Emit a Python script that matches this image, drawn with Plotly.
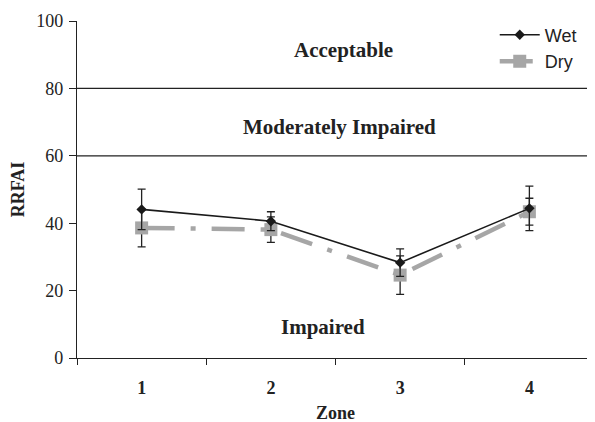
import plotly.graph_objects as go

zones = ["1", "2", "3", "4"]
wet = [44.1, 40.6, 28.3, 44.4]
wet_err = [6.0, 2.8, 4.1, 6.6]
dry = [38.6, 38.1, 24.6, 43.4]
dry_err = [5.6, 3.8, 5.7, 4.0]
y_ticks = [0, 20, 40, 60, 80, 100]
bands = [("Acceptable", 0.515, 91.5), ("Moderately Impaired", 0.508, 68.4), ("Impaired", 0.476, 9.2)]
thresholds = [60, 80]

serif = "Liberation Serif, Times New Roman, serif"
sans = "Liberation Sans, Arial, sans-serif"
ink = "#222222"

fig = go.Figure()
fig.add_trace(go.Scatter(
    x=zones, y=dry, name="Dry", mode="lines+markers",
    line=dict(color="#a6a6a6", width=4.5, dash="33px,16px,5px,16px"),
    marker=dict(symbol="square", size=13, color="#a6a6a6"),
    error_y=dict(type="data", array=dry_err, visible=True, color=ink, thickness=1.3, width=4),
))
fig.add_trace(go.Scatter(
    x=zones, y=wet, name="Wet", mode="lines+markers",
    line=dict(color="#1a1a1a", width=1.6),
    marker=dict(symbol="diamond", size=8, color="#1a1a1a"),
    error_y=dict(type="data", array=wet_err, visible=True, color=ink, thickness=1.3, width=4),
))

for t in thresholds:
    fig.add_shape(type="line", xref="paper", x0=0, x1=1, yref="y", y0=t, y1=t,
                  line=dict(color=ink, width=1.2))

for label, xv, yv in bands:
    fig.add_annotation(x=xv, xref="paper", y=yv, yref="y", text="<b>%s</b>" % label,
                       showarrow=False, font=dict(family=serif, size=21, color=ink))

fig.update_layout(
    width=595, height=422,
    margin=dict(l=69, r=9, t=13, b=72, autoexpand=False),
    paper_bgcolor="white", plot_bgcolor="white",
    showlegend=True,
    legend=dict(x=0.808, y=1.013, xanchor="left", yanchor="top", traceorder="reversed",
                font=dict(family=sans, size=18, color=ink), bgcolor="rgba(0,0,0,0)",
                itemwidth=40, tracegroupgap=0),
    xaxis=dict(
        type="category", range=[-0.5, 3.5], tickson="boundaries", automargin=False,
        showline=True, linecolor=ink, linewidth=1.2,
        ticks="outside", ticklen=6, tickcolor=ink, tickwidth=1.2,
        showgrid=False, zeroline=False, ticklabelstandoff=13,
        tickfont=dict(family=serif, size=18, color=ink),
        tickprefix="<b>", ticksuffix="</b>",
        title=dict(text="<b>Zone</b>", font=dict(family=serif, size=18, color=ink), standoff=9),
    ),
    yaxis=dict(
        range=[0, 100], tickvals=y_ticks, automargin=False,
        showline=True, linecolor=ink, linewidth=1.2,
        ticks="outside", ticklen=7, tickcolor=ink, tickwidth=1.2,
        showgrid=False, zeroline=False, ticklabelstandoff=2,
        tickfont=dict(family=serif, size=18, color=ink),
        title=dict(text="<b>RRFAI</b>", font=dict(family=serif, size=18, color=ink), standoff=8),
    ),
)

fig.write_html("out.html")
